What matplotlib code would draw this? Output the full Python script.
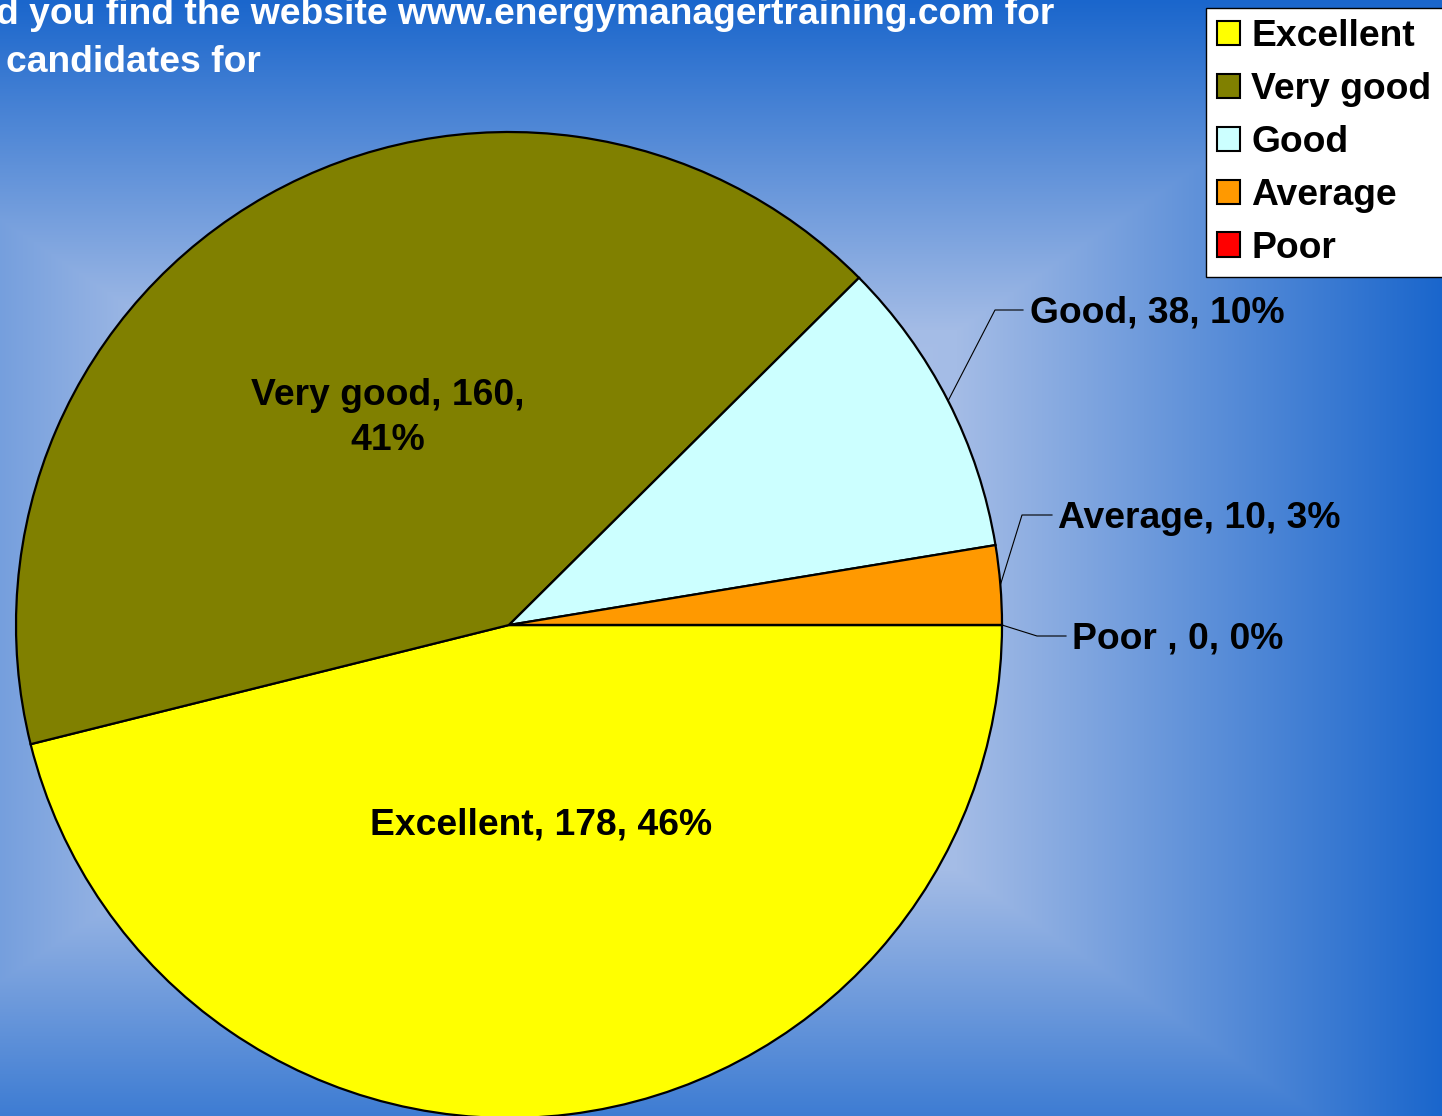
import numpy as np
import matplotlib
matplotlib.use("Agg")
import matplotlib.pyplot as plt
from matplotlib.patches import Patch
from matplotlib.colors import to_rgb

# ---------------- data ----------------
categories = ["Excellent", "Very good", "Good", "Average", "Poor "]
legend_names = ["Excellent", "Very good", "Good", "Average", "Poor"]
values = [178, 160, 38, 10, 0]
colors = ["#FFFF00", "#808000", "#CCFFFF", "#FF9900", "#FF0000"]
title_lines = ["d you find the website www.energymanagertraining.com for",
               "candidates for"]

W, H = 1442, 1116
DPI = 100
FS = 26.8
FONT = "Liberation Sans"

fig = plt.figure(figsize=(W / DPI, H / DPI), dpi=DPI)

# ---------------- background gradient ----------------
bg = fig.add_axes([0, 0, 1, 1], zorder=0)
bg.set_axis_off()
xx, yy = np.meshgrid(np.arange(W), np.arange(H))
cx, cy = 560.0, 600.0
ax_x, ax_y = W - cx, 600.0
t = np.maximum(np.abs(xx - cx) / ax_x, np.abs(yy - cy) / ax_y)
t = np.clip(t, 0, 1)
stops_t = [0.0, 0.45, 1.0]
stops_c = [to_rgb("#B8CCEE"), to_rgb("#A4BCE6"), to_rgb("#1A66CC")]
img = np.zeros((H, W, 3))
for k in range(3):
    img[..., k] = np.interp(t, stops_t, [c[k] for c in stops_c])
bg.imshow(img, extent=[0, W, 0, H], origin="upper", aspect="auto")
bg.set_xlim(0, W)
bg.set_ylim(0, H)

# ---------------- pie ----------------
ax = fig.add_axes([0, 0, 1, 1], zorder=1)
ax.patch.set_alpha(0)

center = (509, H - 625)
radius = 493
wedges, _ = ax.pie(values, colors=colors, startangle=0, counterclock=False,
                   center=center, radius=radius, frame=True,
                   wedgeprops=dict(edgecolor="black", linewidth=1.6))
ax.set_xlim(0, W)
ax.set_ylim(0, H)
ax.set_axis_off()

total = sum(values)
pcts = [round(v * 100 / total) for v in values]
labels = [f"{c}, {v}, {p}%" for c, v, p in zip(categories, values, pcts)]
labels[1] = f"{categories[1]}, {values[1]},\n{pcts[1]}%"

tk = dict(fontsize=FS, fontweight="bold", family=FONT, color="black")
# inside labels
ax.text(541, H - 834, labels[0], ha="center", va="baseline", **tk)
ax.text(388, H - 418, labels[1], ha="center", va="center",
        multialignment="center", linespacing=1.4, **tk)

# outside labels with leader lines (elbow x, line end x, text x, baseline y)
outside = {2: (995, 1023, 1030, 323), 3: (1022, 1052, 1058, 528),
           4: (1037, 1066, 1072, 649)}
for i, (ex, lx, tx, by) in outside.items():
    w = wedges[i]
    ang = np.deg2rad((w.theta1 + w.theta2) / 2)
    sx = center[0] + radius * np.cos(ang)
    sy = center[1] + radius * np.sin(ang)
    ly = H - (by - 13)
    ax.plot([sx, ex, lx], [sy, ly, ly], color="black", lw=0.8, zorder=0.5)
    ax.text(tx, H - by, labels[i], ha="left", va="baseline", **tk)

# ---------------- title ----------------
fig.text(-4 / W, 1 - 24 / H, title_lines[0], ha="left", va="baseline",
         fontsize=FS, fontweight="bold", family=FONT, color="white")
fig.text(6 / W, 1 - 72 / H, title_lines[1], ha="left", va="baseline",
         fontsize=FS, fontweight="bold", family=FONT, color="white")

# ---------------- legend ----------------
handles = [Patch(facecolor=c, edgecolor="black", linewidth=1.5) for c in colors]
leg = fig.legend(handles, legend_names, loc="upper left",
                 bbox_to_anchor=(1206 / W, 1 - 8 / H), frameon=True,
                 fancybox=False, framealpha=1, borderaxespad=0, borderpad=0.3,
                 handlelength=0.62, handleheight=0.62, handletextpad=0.3,
                 labelspacing=0.48,
                 prop=dict(family=FONT, weight="bold", size=FS))
leg.get_frame().set_edgecolor("black")
leg.get_frame().set_facecolor("white")
leg.get_frame().set_linewidth(1.0)
leg.set_zorder(5)

fig.savefig("out.png", dpi=DPI)
